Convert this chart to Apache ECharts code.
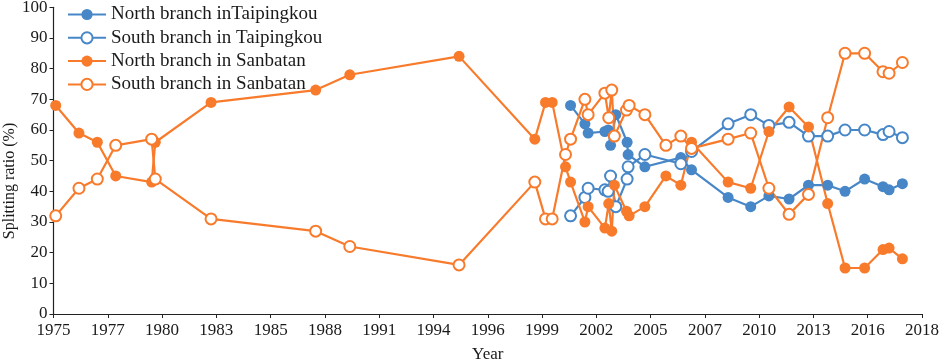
<!DOCTYPE html>
<html>
<head>
<meta charset="utf-8">
<script src="https://cdn.jsdelivr.net/npm/echarts@6/dist/echarts.min.js"></script>
<style>
  html, body { margin: 0; padding: 0; background: #fff; }
  #main { width: 941px; height: 359px; }
</style>
</head>
<body>
<div id="main"></div>
<script>
// tick labels along the year axis (evenly spaced between 1975 and 2018)
var tickLabels = ['1975', '1977', '1980', '1983', '1985', '1988', '1991', '1994', '1996',
                  '1999', '2002', '2005', '2007', '2010', '2013', '2016', '2018'];

// Taipingkou
var tpkYears = [2000.60, 2001.31, 2001.47, 2002.30, 2002.46, 2002.58, 2002.84, 2003.40, 2003.45,
                2004.28, 2006.06, 2006.59, 2008.40, 2009.52, 2010.42, 2011.42, 2012.38, 2013.33,
                2014.19, 2015.16, 2016.07, 2016.37, 2017.03];
var northTpk = [68, 62, 59, 59.5, 60, 55, 65, 56, 52, 48, 51, 47, 38, 35, 38.5, 37.5, 42, 42,
                40, 44, 41.5, 40.5, 42.5];
var southTpk = [32, 38, 41, 40.5, 40, 45, 35, 44, 48, 52, 49, 53, 62, 65, 61.5, 62.5, 58, 58,
                60, 60, 58.5, 59.5, 57.5];

// Sanbatan
var sbtYears = [1975.11, 1976.26, 1977.17, 1978.08, 1979.86, 1980.04, 1982.80, 1987.98, 1989.67,
                1995.08, 1998.83, 1999.36, 1999.69, 2000.35, 2000.60, 2001.31, 2001.47, 2002.30,
                2002.49, 2002.64, 2002.77, 2003.37, 2003.50, 2004.28, 2005.32, 2006.06, 2006.59,
                2008.40, 2009.52, 2010.42, 2011.42, 2012.38, 2013.33, 2014.19, 2015.16, 2016.07,
                2016.37, 2017.03];
var northSbt = [68, 59, 56, 45, 43, 56, 69, 73, 78, 84, 57, 69, 69, 48, 43, 30, 35, 28, 36, 27,
                42, 33.5, 32, 35, 45, 42, 56, 43, 41, 59.5, 67.5, 61, 36, 15, 15, 21, 21.5, 18];
var southSbt = [32, 41, 44, 55, 57, 44, 31, 27, 22, 16, 43, 31, 31, 52, 57, 70, 65, 72, 64, 73,
                58, 66.5, 68, 65, 55, 58, 54, 57, 59, 41, 32.5, 39, 64, 85, 85, 79, 78.5, 82];

var BLUE = '#4787c7';
var ORANGE = '#f87b2c';
var FONT = 'Liberation Serif';

var xMin = 1975, xMax = 2018;
var step = (xMax - xMin) / (tickLabels.length - 1);
var tickPos = tickLabels.map(function (l, i) { return xMin + i * step; });

function pairs(xs, ys) {
  return xs.map(function (x, i) { return [x, ys[i]]; });
}

function makeSeries(name, xs, ys, color, filled) {
  return {
    name: name,
    type: 'line',
    data: pairs(xs, ys),
    symbol: filled ? 'circle' : 'emptyCircle',
    symbolSize: 11,
    showAllSymbol: true,
    lineStyle: { color: color, width: 2.2 },
    itemStyle: { color: color, borderColor: color, borderWidth: filled ? 0 : 1.5 },
    emphasis: { disabled: true },
    animation: false
  };
}

var chart = echarts.init(document.getElementById('main'));
chart.setOption({
  backgroundColor: '#fff',
  grid: { left: 53.5, right: 19, top: 7.3, bottom: 45, outerBoundsMode: 'none', containLabel: false },
  graphic: [{
    type: 'text',
    x: 10,
    y: 181,
    rotation: Math.PI / 2,
    style: {
      text: 'Splitting ratio (%)',
      fontFamily: FONT,
      fontSize: 16,
      fill: '#1a1a1a',
      align: 'center',
      verticalAlign: 'middle'
    }
  }],
  legend: {
    orient: 'vertical',
    left: 67,
    top: 5,
    padding: 0,
    itemWidth: 38,
    itemHeight: 14,
    itemGap: 4.3,
    textStyle: { fontFamily: FONT, fontSize: 19, color: '#1a1a1a' },
    data: ['North branch inTaipingkou', 'South branch in Taipingkou',
           'North branch in Sanbatan', 'South branch in Sanbatan']
  },
  xAxis: {
    type: 'value',
    min: xMin,
    max: xMax,
    name: 'Year',
    nameLocation: 'middle',
    nameGap: 32,
    nameTextStyle: { fontFamily: FONT, fontSize: 17, color: '#1a1a1a' },
    splitLine: { show: false },
    axisLine: { lineStyle: { color: '#222', width: 1.2 } },
    axisTick: { show: true, customValues: tickPos, length: 4, inside: false, lineStyle: { color: '#222' } },
    axisLabel: {
      customValues: tickPos,
      margin: 8,
      fontFamily: FONT, fontSize: 17, color: '#1a1a1a',
      formatter: function (v) {
        return tickLabels[Math.round((v - xMin) / step)];
      }
    }
  },
  yAxis: {
    type: 'value',
    min: 0,
    max: 100,
    interval: 10,
    splitLine: { show: false },
    axisLine: { show: true, lineStyle: { color: '#222', width: 1.2 } },
    axisTick: { show: true, length: 4, lineStyle: { color: '#222' } },
    axisLabel: { margin: 6, fontFamily: FONT, fontSize: 17, color: '#1a1a1a' }
  },
  series: [
    makeSeries('North branch inTaipingkou', tpkYears, northTpk, BLUE, true),
    makeSeries('South branch in Taipingkou', tpkYears, southTpk, BLUE, false),
    makeSeries('North branch in Sanbatan', sbtYears, northSbt, ORANGE, true),
    makeSeries('South branch in Sanbatan', sbtYears, southSbt, ORANGE, false)
  ]
});
</script>
</body>
</html>
